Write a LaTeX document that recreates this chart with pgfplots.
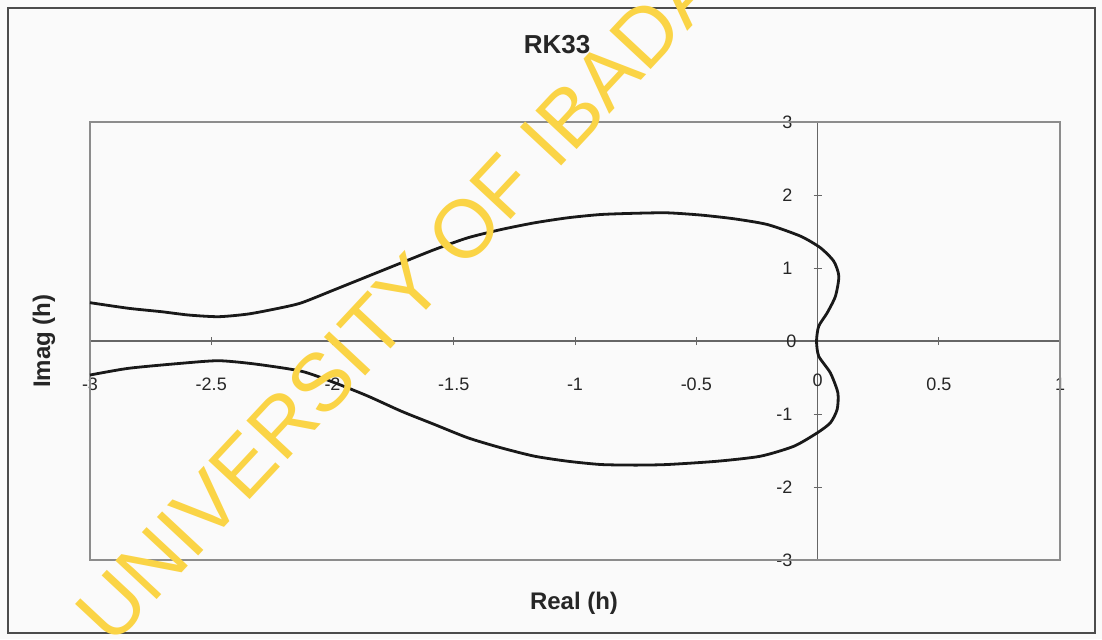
\documentclass[border=0pt]{standalone}
\usepackage{pgfplots}
\pgfplotsset{compat=1.18}
\usepackage{fontspec}
\setmainfont{Liberation Sans}
\definecolor{wmark}{RGB}{250,212,70}

\begin{document}
\begin{tikzpicture}
\begin{scope}[x=0.5pt,y=-0.5pt]
  \useasboundingbox (0,0) rectangle (1102,639);
  \fill[black!2] (0,0) rectangle (1102,639);
  \draw[line width=0.8pt, black!70] (8,8) rectangle (1095,633);
\end{scope}

\begin{axis}[
  at={(45pt,-61pt)}, anchor=north west,
  scale only axis, width=485pt, height=219pt,
  xmin=-3, xmax=1, ymin=-3, ymax=3,
  axis lines=middle,
  axis line style={-, black!60, line width=0.6pt},
  xtick={-3,-2.5,-2,-1.5,-1,-0.5,0,0.5,1},
  ytick={-3,-2,-1,0,1,2,3},
  xticklabels={-3,-2.5,-2,-1.5,-1,-0.5,0,0.5,1},
  yticklabels={-3,-2,-1,0,1,2,3},
  tick align=center, major tick length=4pt,
  tick style={black!60, line width=0.5pt},
  xticklabel style={anchor=center, yshift=-19.5pt, font=\fontsize{9}{10}\selectfont, text=black!85},
  yticklabel style={anchor=east, xshift=-7pt, font=\fontsize{9}{10}\selectfont, text=black!85},
  clip=false,
]
\draw[black!45, line width=0.6pt] (rel axis cs:0,0) rectangle (rel axis cs:1,1);

\addplot[black!90, line width=1.4pt, smooth, tension=0.4] coordinates {
  (-3.000, 0.525) (-2.841, 0.448) (-2.704, 0.401) (-2.594, 0.356)
  (-2.470, 0.333) (-2.347, 0.370) (-2.223, 0.448) (-2.128, 0.523)
  (-1.990, 0.705) (-1.853, 0.888) (-1.716, 1.071) (-1.579, 1.253)
  (-1.442, 1.414) (-1.305, 1.527) (-1.167, 1.619) (-1.030, 1.688)
  (-0.893, 1.733) (-0.750, 1.750) (-0.619, 1.756) (-0.480, 1.725)
  (-0.344, 1.674) (-0.207, 1.596) (-0.070, 1.436) (0.012, 1.277)
  (0.067, 1.093) (0.088, 0.888) (0.074, 0.614) (0.040, 0.386)
  (0.005, 0.203) (-0.004, 0.000) (0.005, -0.208) (0.053, -0.436)
  (0.084, -0.710) (0.081, -0.938) (0.053, -1.121) (-0.001, -1.258)
  (-0.097, -1.441) (-0.235, -1.578) (-0.413, -1.647) (-0.619, -1.692)
  (-0.750, -1.700) (-0.893, -1.692) (-1.030, -1.647) (-1.167, -1.578)
  (-1.305, -1.463) (-1.442, -1.326) (-1.579, -1.144) (-1.716, -0.962)
  (-1.853, -0.756) (-1.990, -0.573) (-2.128, -0.414) (-2.320, -0.315)
  (-2.470, -0.270) (-2.626, -0.306) (-2.841, -0.374) (-3.000, -0.466)
};
% the 0 labels at the crossing
\node[anchor=center, yshift=-19.5pt, font=\fontsize{9}{10}\selectfont, text=black!85] at (axis cs:0,0) {0};
\node[anchor=east, xshift=-7pt, font=\fontsize{9}{10}\selectfont, text=black!85] at (axis cs:0,0) {0};
\end{axis}

\begin{scope}[x=0.5pt,y=-0.5pt]
  \node[font=\bfseries\fontsize{13}{15}\selectfont, text=black!85] at (557,45) {RK33};
  \node[font=\bfseries\fontsize{12}{14}\selectfont, text=black!85] at (574,603) {Real (h)};
  \node[font=\bfseries\fontsize{12}{14}\selectfont, text=black!85, rotate=90] at (44,341) {Imag (h)};
  \clip (0,0) rectangle (1102,639);
  \node[text=wmark, font=\fontsize{41}{50}\selectfont, rotate=47, anchor=base west, inner sep=0pt]
    at (112,648) {UNIVERSITY OF IBADAN};
\end{scope}
\end{tikzpicture}
\end{document}
